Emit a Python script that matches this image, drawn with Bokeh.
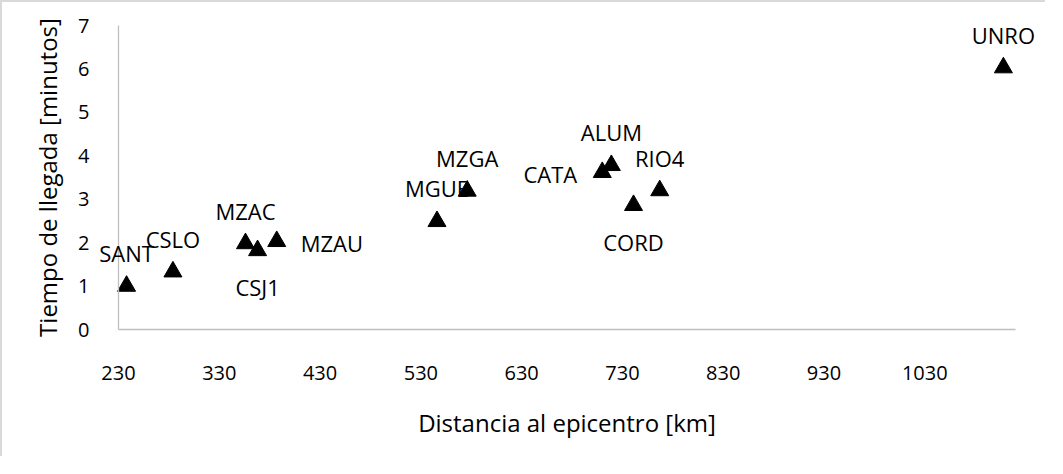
from bokeh.plotting import figure
from bokeh.models import ColumnDataSource, FixedTicker, Range1d, Label
from bokeh.embed import file_html
from bokeh.resources import INLINE

# ---- data ----
stations = ["SANT", "CSLO", "MZAC", "CSJ1", "MZAU", "MGUE",
            "MZGA", "CATA", "ALUM", "CORD", "RIO4", "UNRO"]
distance_km = [238, 284, 356, 368, 387, 546, 576, 710, 719, 741, 767, 1108]
arrival_min = [1.00, 1.33, 1.98, 1.82, 2.03, 2.49, 3.19, 3.62, 3.78, 2.86, 3.20, 6.03]
x_ticks = [230, 330, 430, 530, 630, 730, 830, 930, 1030]
y_ticks = [0, 1, 2, 3, 4, 5, 6, 7]
x_title = "Distancia al epicentro [km]"
y_title = "Tiempo de llegada [minutos]"

# label placement per station (default: above)
label_side = {"CSJ1": "below", "CORD": "below", "MZAU": "right", "CATA": "left"}

FONT = "Open Sans"
TXT = "#000000"
AXIS = "#bfbfbf"

# ---- layout: whole canvas is the frame, axes placed at fixed locations ----
W, H = 1045, 456
X0, X1, Y0, Y1 = 230, 1120, 0, 7          # axis extents (data units)
PL, PR, PT, PB = 116, 1013, 23, 327       # where the axes sit on the canvas (px)
kx = (PR - PL) / (X1 - X0)
ky = (PB - PT) / (Y1 - Y0)
x_range = Range1d(X0 - PL / kx, X1 + (W - PR) / kx)
y_range = Range1d(Y0 - (H - PB) / ky, Y1 + PT / ky)

p = figure(width=W, height=H, output_backend="svg", toolbar_location=None,
           x_range=x_range, y_range=y_range, min_border=0,
           background_fill_color="white", border_fill_color="white")
p.styles = {"border-left": "2px solid #d9d9d9", "border-top": "2px solid #d9d9d9"}
p.outline_line_color = None
p.grid.visible = False

p.xaxis.fixed_location = Y0
p.yaxis.fixed_location = X0
p.xaxis.bounds = (X0, X1)
p.yaxis.bounds = (Y0, Y1)
p.xaxis.ticker = FixedTicker(ticks=x_ticks)
p.yaxis.ticker = FixedTicker(ticks=y_ticks)
for ax in (p.xaxis, p.yaxis):
    ax.axis_line_color = AXIS
    ax.axis_line_width = 1.3
    ax.major_tick_line_color = None
    ax.minor_tick_line_color = None
    ax.major_label_text_font = FONT
    ax.major_label_text_font_size = "20px"
    ax.major_label_text_color = TXT
    ax.axis_label_text_font = FONT
    ax.axis_label_text_font_size = "24px"
    ax.axis_label_text_font_style = "normal"
    ax.axis_label_text_color = TXT

p.xaxis.axis_label = x_title
p.yaxis.axis_label = y_title
p.xaxis.major_label_standoff = 30
p.xaxis.axis_label_standoff = 23
p.yaxis.major_label_standoff = 23
p.yaxis.axis_label_standoff = 11

src = ColumnDataSource(dict(x=distance_km, y=arrival_min, name=stations))
p.scatter("x", "y", source=src, marker="triangle", size=18,
          fill_color="black", line_color="black")

# screen offsets (y positive = up) for each placement
offsets = {"above": (0, 33, "center"), "below": (0, -37, "center"),
           "right": (24, -2, "left"), "left": (-25, -1.5, "right")}
for name, xv, yv in zip(stations, distance_km, arrival_min):
    dx, dy, align = offsets[label_side.get(name, "above")]
    p.add_layout(Label(x=xv, y=yv, text=name, x_offset=dx, y_offset=dy,
                       text_align=align, text_baseline="middle",
                       text_font=FONT, text_font_size="22px",
                       text_color=TXT))

open("out.html", "w").write(file_html(p, INLINE))
